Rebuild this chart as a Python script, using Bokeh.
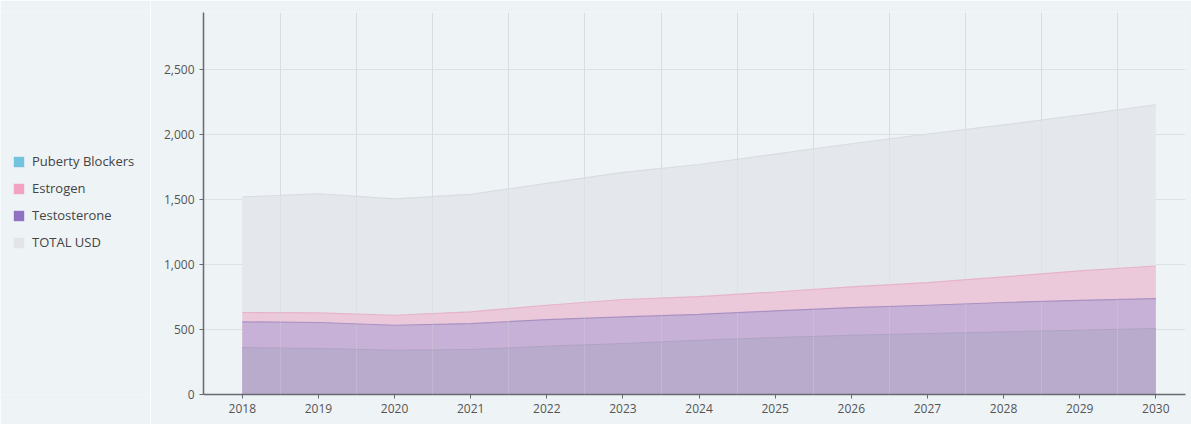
from bokeh.plotting import figure
from bokeh.layouts import row
from bokeh.models import (Range1d, FixedTicker, NumeralTickFormatter, Legend, LegendItem,
                          ColumnDataSource, Grid)
from bokeh.embed import file_html
from bokeh.resources import INLINE

years = [2018, 2019, 2020, 2021, 2022, 2023, 2024, 2025, 2026, 2027, 2028, 2029, 2030]
total_usd = [1520, 1545, 1505, 1540, 1625, 1710, 1770, 1850, 1930, 2005, 2075, 2150, 2230]
estrogen = [631, 628, 610, 636, 687, 731, 753, 789, 828, 861, 905, 951, 989]
testosterone = [559, 554, 533, 546, 577, 597, 616, 643, 669, 687, 708, 725, 738]
puberty_blockers = [361, 354, 341, 346, 372, 392, 418, 438, 456, 469, 482, 495, 508]
series_names = ["Puberty Blockers", "Estrogen", "Testosterone", "TOTAL USD"]
y_ticks = [0, 500, 1000, 1500, 2000, 2500]

FONT = "Open Sans"
BG = "#eef3f6"

# ---------------- main chart ----------------
p = figure(width=1041, height=424, output_backend="svg", toolbar_location=None,
           x_range=Range1d(2017.49, 2030.39), y_range=Range1d(0, 2940),
           min_border_left=53, min_border_right=6, min_border_top=12, min_border_bottom=30)
p.background_fill_color = BG
p.border_fill_color = BG
p.outline_line_color = None

src = ColumnDataSource(dict(x=years, total=total_usd, est=estrogen, tes=testosterone, pb=puberty_blockers))

# overlapping areas from zero (composite colours of the translucent fills)
p.varea(x="x", y1=0, y2="total", source=src, fill_color="#e4e7eb")
p.line(x="x", y="total", source=src, line_color="#d9dce2", line_width=1.2)
p.varea(x="x", y1=0, y2="est", source=src, fill_color="#ecc9da")
p.line(x="x", y="est", source=src, line_color="#e6b3ca", line_width=1.2)
p.varea(x="x", y1=0, y2="tes", source=src, fill_color="#c8b1d6")
p.line(x="x", y="tes", source=src, line_color="#a991c2", line_width=1.2)
p.varea(x="x", y1=0, y2="pb", source=src, fill_color="#b9abcc")
p.line(x="x", y="pb", source=src, line_color="#b0a2c6", line_width=1)

# axes
p.xaxis.ticker = FixedTicker(ticks=years)
p.yaxis.ticker = FixedTicker(ticks=y_ticks)
p.yaxis.formatter = NumeralTickFormatter(format="0,0")
for ax in (p.xaxis[0], p.yaxis[0]):
    ax.axis_line_color = "#666a70"
    ax.axis_line_width = 1.5
    ax.major_tick_line_color = "#666a70"
    ax.major_tick_out = 4
    ax.major_tick_in = 0
    ax.minor_tick_line_color = None
    ax.major_label_text_font = FONT
    ax.major_label_text_font_size = "12px"
    ax.major_label_text_color = "#555555"
    ax.major_label_standoff = 5

half_years = FixedTicker(ticks=[y + 0.5 for y in years[:-1]])
p.xgrid.ticker = half_years
p.xgrid.grid_line_color = "#dce1e6"
p.ygrid.grid_line_color = "#dce1e6"
p.add_layout(Grid(dimension=0, ticker=half_years, level="overlay",
                  grid_line_color="#d0d5db", grid_line_alpha=0.3))

# ---------------- legend panel ----------------
lg = figure(width=150, height=424, output_backend="svg", toolbar_location=None,
            x_range=Range1d(0, 1), y_range=Range1d(0, 1),
            min_border_left=0, min_border_right=0, min_border_top=0, min_border_bottom=0)
lg.axis.visible = False
lg.grid.visible = False
lg.background_fill_color = BG
lg.border_fill_color = BG
lg.outline_line_color = None

swatch_colors = ["#73c3df", "#f2a3c0", "#8f72c2", "#e3e4e8"]
items = []
for name, col in zip(series_names, swatch_colors):
    # zero-height area outside the visible range: only its legend swatch shows
    r = lg.varea(x=[-10, -9], y1=[0, 0], y2=[0, 0], fill_color=col)
    items.append(LegendItem(label=name, renderers=[r]))
legend = Legend(items=items, location=(12, 142), orientation="vertical",
                label_text_font=FONT, label_text_font_size="13px", label_text_color="#444444",
                glyph_width=13, glyph_height=13, label_height=20, spacing=7,
                padding=0, margin=0, border_line_alpha=0, background_fill_alpha=0,
                label_standoff=7)
lg.add_layout(legend, "center")

layout = row(lg, p, spacing=0)
html = file_html(layout, INLINE)
html = html.replace("<body>", '<body style="background-color: %s;">' % BG, 1)
open("out.html", "w").write(html)
